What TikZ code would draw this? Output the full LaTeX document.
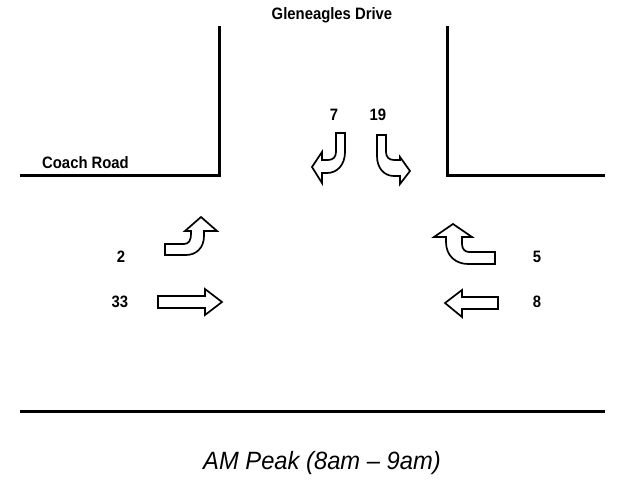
\documentclass[tikz,border=0pt]{standalone}
\usepackage{fontspec}
\setmainfont{Liberation Sans}
\newfontfamily\narrowsans[FakeStretch=0.9,Ligatures=TeX]{Liberation Sans}
\newfontfamily\titlesans[FakeStretch=0.95,Ligatures=TeX]{Liberation Sans}
\begin{document}
\begin{tikzpicture}[x=1pt,y=-1pt,
  road/.style={line width=3pt},
  arr/.style={draw=black,line width=1.7pt,fill=white,line join=miter},
  lbl/.style={font=\narrowsans\fontsize{16.5}{18}\selectfont\bfseries,inner sep=0pt}]
\useasboundingbox (0,0) rectangle (625,482);
% roads
\coordinate (lt) at (219,26); \coordinate (lc) at (219,175); \coordinate (ll) at (20,175);
\coordinate (rt) at (447,26); \coordinate (rc) at (447,175); \coordinate (rr) at (605,175);
\coordinate (bl) at (20,411); \coordinate (br) at (605,411);
\draw[road] (lt) -- (lc) -- (ll);
\draw[road] (rt) -- (rc) -- (rr);
\draw[road] (bl) -- (br);
% labels
\node[lbl] (gd) at (332,15) {Gleneagles Drive};
\node[lbl,anchor=west] (cr) at (42,163) {Coach Road};
\node[lbl] (n7) at (334,115) {7};
\node[lbl] (n19) at (378,115) {19};
\node[lbl] (n2) at (121,257) {2};
\node[lbl] (n33) at (120,302) {33};
\node[lbl] (n5) at (537,257) {5};
\node[lbl] (n8) at (537,302) {8};
\node[font=\titlesans\fontsize{25}{28}\selectfont\itshape,inner sep=0pt] (title) at (322,463) {AM Peak (8am – 9am)};
% through arrow east (33)
\draw[arr] (158,296) -- (205,296) -- (205,289) -- (222,302) -- (205,315) -- (205,308) -- (158,308) -- cycle;
% through arrow west (8)
\draw[arr] (498,297) -- (462,297) -- (462,290) -- (445,303) -- (462,317) -- (462,309) -- (498,309) -- cycle;
% left turn west approach (2)
\draw[arr] (165,244) -- (184,244) .. controls (189,244) and (191,240) .. (191,234) -- (191,231)
  -- (185,231) -- (201,217) -- (217,231) -- (204,231) -- (204,236)
  .. controls (204,248) and (196,255) .. (186,255) -- (165,255) -- cycle;
% right turn east approach (5)
\draw[arr] (495,252) -- (469,252) .. controls (465,252) and (462,249) .. (462,244) -- (462,237)
  -- (472,237) -- (453,224) -- (434,237) -- (446,237) -- (446,242)
  .. controls (446,256) and (456,264) .. (468,264) -- (495,264) -- cycle;
% south approach turning west (7)
\draw[arr] (336,133) -- (345,133) -- (345,152)
  .. controls (345,165) and (337,173) .. (327,173) -- (322,173) -- (322,183) -- (312,167)
  -- (322,152) -- (322,160) -- (328,160) .. controls (333,160) and (336,157) .. (336,152) -- cycle;
% south approach turning east (19)
\draw[arr] (377,135) -- (386,135) -- (386,152)
  .. controls (386,157) and (389,160) .. (394,160) -- (400,160) -- (400,157) -- (410,171)
  -- (400,184) -- (400,176) -- (394,176) .. controls (384,176) and (377,168) .. (377,156) -- cycle;
\end{tikzpicture}
\end{document}
